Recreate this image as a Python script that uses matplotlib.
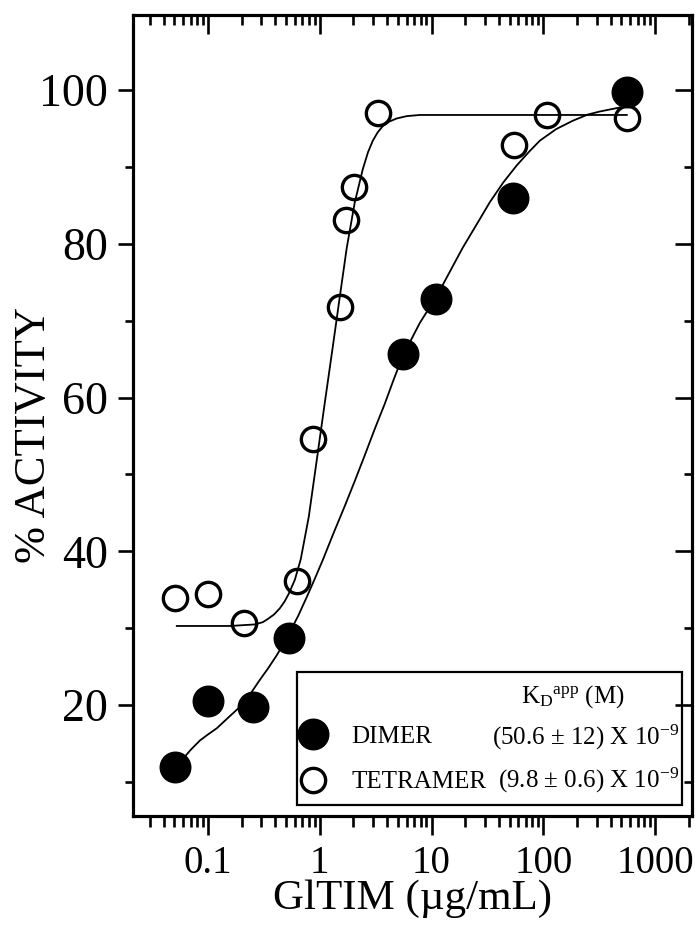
import matplotlib
matplotlib.use('Agg')
import matplotlib.pyplot as plt
from matplotlib.ticker import LogLocator, MultipleLocator, NullFormatter
from matplotlib.patches import Rectangle

plt.rcParams['font.family'] = ['Liberation Serif', 'DejaVu Serif']
plt.rcParams['mathtext.fontset'] = 'custom'
plt.rcParams['mathtext.rm'] = 'Liberation Serif'
plt.rcParams['mathtext.it'] = 'Liberation Serif:italic'

# ---------------- data ----------------
dimer_x = [0.051, 0.10, 0.25, 0.53, 5.5, 11.0, 54.0, 560.0]
dimer_y = [12.0, 20.5, 19.8, 28.7, 65.7, 72.8, 86.0, 99.7]

tetramer_x = [0.051, 0.10, 0.21, 0.62, 0.87, 1.53, 1.73, 2.02, 3.32, 55.0, 107.0, 560.0]
tetramer_y = [33.9, 34.5, 30.7, 36.2, 54.6, 71.8, 83.1, 87.4, 97.0, 92.8, 96.7, 96.4]

# fitted curves
dimer_fit_x = [0.0514, 0.0594, 0.0700, 0.0844, 0.1000, 0.1198, 0.1520, 0.1924, 0.2400,
               0.2904, 0.3450, 0.4122, 0.4700, 0.5389, 0.640, 0.765, 0.900, 1.064,
               1.330, 1.674, 2.050, 2.527, 3.100, 3.817, 4.600, 5.531, 7.85, 11.14,
               15.0, 19.04, 27.03, 33.21, 44.0, 57.94, 75.0, 93.05, 130.0, 183.7,
               250.0, 320.3, 514.5]
dimer_fit_y = [11.96, 13.00, 14.20, 15.40, 16.20, 17.00, 18.40, 19.77, 21.50,
               23.28, 24.80, 26.50, 27.90, 29.50, 31.60, 34.07, 36.40, 38.88,
               42.40, 45.90, 49.10, 52.50, 55.90, 59.20, 62.40, 65.41, 69.70, 73.20,
               76.70, 79.50, 83.20, 85.40, 88.00, 90.20, 92.00, 93.40, 94.90, 96.00,
               96.80, 97.20, 97.80]

tetramer_fit_x = [0.0525, 0.157, 0.262, 0.310, 0.342, 0.390, 0.439, 0.485, 0.528,
                  0.598, 0.676, 0.797, 0.940, 1.108, 1.307, 1.510, 1.744, 2.057,
                  2.426, 2.700, 2.981, 3.300, 3.663, 4.200, 4.887, 6.000, 7.85,
                  27.0, 559.0]
tetramer_fit_y = [30.3, 30.3, 30.5, 30.8, 31.2, 31.8, 32.6, 33.5, 34.5,
                  36.3, 39.0, 44.5, 51.9, 59.3, 66.6, 73.1, 79.5, 85.4,
                  89.7, 91.9, 93.4, 94.5, 95.3, 95.9, 96.3, 96.6, 96.75,
                  96.75, 96.75]

x_tick_vals = [0.1, 1, 10, 100, 1000]
x_tick_labels = ['0.1', '1', '10', '100', '1000']
y_tick_vals = [20, 40, 60, 80, 100]
y_tick_labels = ['20', '40', '60', '80', '100']

series_labels = ['DIMER', 'TETRAMER']
kd_header = r'K$_\mathrm{D}$$^\mathrm{app}$ (M)'
kd_values = [r'(50.6 $\pm$ 12) X 10$^{\mathrm{-9}}$', r'(9.8 $\pm$ 0.6) X 10$^{\mathrm{-9}}$']

XLIM = (0.0213, 2143)
YLIM = (5.59, 109.75)

# ---------------- figure ----------------
fig = plt.figure(figsize=(6.97, 9.31), dpi=100)
ax = fig.add_axes([133 / 697, 115 / 931, 559 / 697, 801 / 931])

ax.plot(dimer_fit_x, dimer_fit_y, '-', color='black', lw=1.3, zorder=2)
ax.plot(tetramer_fit_x, tetramer_fit_y, '-', color='black', lw=1.3, zorder=2)
h1, = ax.plot(dimer_x, dimer_y, 'o', ms=22, color='black', mec='black',
              label=series_labels[0], zorder=3, clip_on=False)
h2, = ax.plot(tetramer_x, tetramer_y, 'o', ms=17.5, mfc='none', mec='black',
              mew=2.4, label=series_labels[1], zorder=3, clip_on=False)

ax.set_xscale('log')
ax.set_xlim(*XLIM)
ax.set_ylim(*YLIM)
ax.set_xticks(x_tick_vals, labels=x_tick_labels)
ax.xaxis.set_minor_locator(LogLocator(base=10, subs=[2, 3, 4, 5, 6, 7, 8, 9], numticks=20))
ax.xaxis.set_minor_formatter(NullFormatter())
ax.set_yticks(y_tick_vals, labels=y_tick_labels)
ax.yaxis.set_minor_locator(MultipleLocator(10))

ax.tick_params(axis='x', which='major', direction='out', length=14, width=1.9,
               labelsize=28, pad=7, top=False)
ax.tick_params(axis='x', which='minor', direction='out', length=8, width=1.9, top=False)
ax.tick_params(axis='y', which='major', direction='out', length=11, width=1.9,
               labelsize=33, pad=7, right=False)
ax.tick_params(axis='y', which='minor', direction='out', length=6, width=1.9, right=False)

for sp in ax.spines.values():
    sp.set_linewidth(2.2)

# top axis: inward ticks
axt = ax.twiny()
axt.set_xscale('log')
axt.set_xlim(*XLIM)
axt.set_xticks(x_tick_vals)
axt.xaxis.set_minor_locator(LogLocator(base=10, subs=[2, 3, 4, 5, 6, 7, 8, 9], numticks=20))
axt.xaxis.set_minor_formatter(NullFormatter())
axt.tick_params(axis='x', which='major', direction='in', length=14, width=1.9,
                top=True, bottom=False, labeltop=False, labelbottom=False)
axt.tick_params(axis='x', which='minor', direction='in', length=7, width=1.9,
                top=True, bottom=False)

# right axis: inward ticks
axr = ax.twinx()
axr.set_ylim(*YLIM)
axr.set_yticks(y_tick_vals)
axr.yaxis.set_minor_locator(MultipleLocator(10))
axr.tick_params(axis='y', which='major', direction='in', length=12, width=1.9,
                right=True, left=False, labelright=False, labelleft=False)
axr.tick_params(axis='y', which='minor', direction='in', length=6, width=1.9,
                right=True, left=False)
for a in (axt, axr):
    for sp in a.spines.values():
        sp.set_linewidth(2.2)

# axis labels
ax.set_xlabel('GlTIM (\u00b5g/mL)', fontsize=31)
ax.xaxis.set_label_coords(0.5, -0.079)
ax.set_ylabel('% ACTIVITY', fontsize=32)
ax.yaxis.set_label_coords(-0.141, 0.476)

# legend box with K_D column
box = Rectangle((0.2934, 0.014), 0.982 - 0.2934, 0.1796 - 0.014, transform=ax.transAxes,
                facecolor='white', edgecolor='black', lw=1.6, zorder=4)
ax.add_patch(box)
leg = ax.legend(handles=[h1, h2], loc='upper left', bbox_to_anchor=(0.295, 0.113),
                frameon=False, fontsize=18, borderpad=0, borderaxespad=0,
                handlelength=1.2, handletextpad=0.95, labelspacing=0.92, numpoints=1)
leg.set_zorder(5)
ax.text(0.787, 0.141, kd_header, transform=ax.transAxes, ha='center', va='baseline',
        fontsize=18, zorder=6)
ax.text(0.977, 0.0886, kd_values[0], transform=ax.transAxes, ha='right', va='baseline',
        fontsize=18, zorder=6)
ax.text(0.977, 0.035, kd_values[1], transform=ax.transAxes, ha='right', va='baseline',
        fontsize=18, zorder=6)

fig.savefig('out.png', dpi=100)
